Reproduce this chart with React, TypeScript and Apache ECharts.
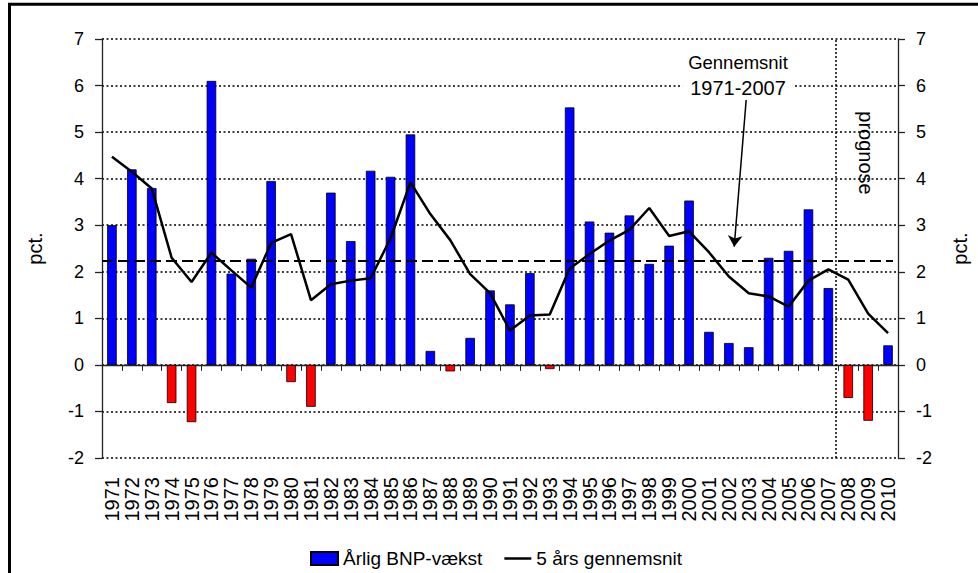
import React, { useEffect, useRef } from "react";
import * as echarts from "echarts";

const years = [
  "1971", "1972", "1973", "1974", "1975", "1976", "1977", "1978", "1979", "1980",
  "1981", "1982", "1983", "1984", "1985", "1986", "1987", "1988", "1989", "1990",
  "1991", "1992", "1993", "1994", "1995", "1996", "1997", "1998", "1999", "2000",
  "2001", "2002", "2003", "2004", "2005", "2006", "2007", "2008", "2009", "2010",
];

const growth = [
  3.0, 4.2, 3.8, -0.82, -1.23, 6.1, 1.96, 2.28, 3.95, -0.37,
  -0.9, 3.7, 2.66, 4.17, 4.04, 4.95, 0.3, -0.14, 0.58, 1.6,
  1.3, 1.97, -0.09, 5.53, 3.08, 2.84, 3.21, 2.17, 2.56, 3.53,
  0.71, 0.47, 0.38, 2.3, 2.45, 3.34, 1.65, -0.71, -1.2, 0.42,
];

const avg5 = [
  4.47, 4.15, 3.79, 2.3, 1.78, 2.41, 2.03, 1.66, 2.62, 2.81,
  1.39, 1.73, 1.81, 1.86, 2.72, 3.92, 3.24, 2.68, 1.95, 1.54,
  0.74, 1.06, 1.08, 2.07, 2.38, 2.67, 2.9, 3.37, 2.77, 2.87,
  2.42, 1.9, 1.54, 1.47, 1.25, 1.81, 2.05, 1.83, 1.1, 0.68,
];

const yTicks = { min: -2, max: 7, interval: 1 };
const longRunAverage = 2.24;
const forecastBoundary = 36.87; // position on the year scale (0..40)
const arrowFrom = [32.37, 5.69];
const arrowTo = [31.77, 2.54];

const seriesNames = ["Årlig BNP-vækst", "5 års gennemsnit"];

const FONT = "Liberation Sans";
const LINE_ICON =
  "path://M0,0 L0.01,0 L0.01,0.01 Z M0,5.2 L30,5.2 L30,7.8 L0,7.8 Z M0,13 L0.01,13 L0.01,12.99 Z";

export default function App() {
  const ref = useRef<HTMLDivElement>(null);

  useEffect(() => {
    if (!ref.current) return;
    const chart = echarts.init(ref.current, undefined, { renderer: "svg" });

    const barData = growth.map((v) =>
      v < 0 ? { value: v, itemStyle: { color: "#FF0000" } } : { value: v }
    );

    const yAxisBase = {
      type: "value",
      min: yTicks.min,
      max: yTicks.max,
      interval: yTicks.interval,
      axisLine: { show: true, lineStyle: { color: "#222", width: 1.3 } },
      axisTick: { show: true, inside: false, length: 7, lineStyle: { color: "#222", width: 1.3 } },
      axisLabel: { fontSize: 18, color: "#000", fontFamily: FONT, margin: 18 },
      name: "pct.",
      nameLocation: "middle",
      nameRotate: 90,
      nameTextStyle: { fontSize: 20, color: "#000", fontFamily: FONT },
    };

    chart.setOption({
      animation: false,
      backgroundColor: "#fff",
      textStyle: { fontFamily: FONT },
      grid: { left: 102, right: 79, top: 39, bottom: 115, containLabel: false },
      legend: {
        left: 305,
        top: 544,
        itemWidth: 27,
        itemHeight: 13,
        itemGap: 22,
        textStyle: { fontSize: 19, color: "#000", fontFamily: FONT },
        data: [
          { name: seriesNames[0], icon: "rect" },
          { name: seriesNames[1], icon: LINE_ICON, itemStyle: { color: "#000", borderWidth: 0 } },
        ],
      },
      xAxis: [
        {
          type: "category",
          data: years,
          position: "bottom",
          axisLine: { show: false, onZero: false },
          axisTick: { show: false },
          splitLine: { show: false },
          axisLabel: {
            rotate: 90,
            fontSize: 20,
            color: "#000",
            fontFamily: FONT,
            margin: 19,
            interval: 0,
          },
        },
        {
          type: "category",
          data: years,
          position: "bottom",
          axisLine: { show: true, onZero: true, onZeroAxisIndex: 0, lineStyle: { color: "#222", width: 1.3 } },
          axisTick: { show: true, inside: false, length: 6, interval: 0, lineStyle: { color: "#222", width: 1 } },
          axisLabel: { show: false },
          splitLine: { show: false },
        },
        {
          type: "value",
          min: 0,
          max: years.length,
          show: false,
        },
      ],
      yAxis: [
        {
          ...yAxisBase,
          position: "left",
          nameGap: 57,
          splitLine: { show: true, lineStyle: { color: "#000", width: 1.6, type: [2, 2.5] } },
        },
        {
          ...yAxisBase,
          position: "right",
          nameGap: 52,
          splitLine: { show: false },
        },
      ],
      series: [
        {
          name: seriesNames[0],
          type: "bar",
          xAxisIndex: 0,
          yAxisIndex: 0,
          barWidth: "48%",
          itemStyle: { color: "#0000FF", borderColor: "#000", borderWidth: 0.8 },
          data: barData,
          z: 2,
        },
        {
          name: seriesNames[1],
          type: "line",
          xAxisIndex: 0,
          yAxisIndex: 0,
          data: avg5,
          symbol: "none",
          lineStyle: { color: "#000", width: 2.5 },
          itemStyle: { color: "#000" },
          z: 4,
        },
        {
          name: "annotations",
          type: "scatter",
          xAxisIndex: 2,
          yAxisIndex: 0,
          data: [[0, 0]],
          symbolSize: 0,
          silent: true,
          z: 3,
          markLine: {
            silent: true,
            animation: false,
            label: { show: false },
            emphasis: { disabled: true },
            data: [
              [
                { coord: [0, longRunAverage], symbol: "none" },
                { coord: [39.75, longRunAverage], symbol: "none" },
              ],
              [
                { coord: [forecastBoundary, yTicks.min], symbol: "none" },
                { coord: [forecastBoundary, yTicks.max], symbol: "none" },
              ],
              [
                { coord: arrowFrom, symbol: "none" },
                { coord: arrowTo, symbol: "arrow", symbolSize: 11 },
              ],
            ].map((pair, i) => {
              const styles = [
                { color: "#000", width: 2, type: [11, 5] },
                { color: "#000", width: 1.5, type: [2, 2] },
                { color: "#000", width: 1.5, type: "solid" },
              ];
              return [
                { ...pair[0], lineStyle: styles[i] },
                { ...pair[1], lineStyle: styles[i] },
              ];
            }),
          },
        },
      ],
      graphic: [
        {
          type: "rect",
          z: 100,
          silent: true,
          shape: { x: 9.5, y: 4.2, width: 1100, height: 700 },
          style: { fill: "none", stroke: "#000", lineWidth: 3 },
        },
        {
          type: "text",
          z: 100,
          x: 738,
          y: 62,
          style: {
            text: "Gennemsnit",
            font: `18.5px "${FONT}"`,
            fill: "#000",
            align: "center",
            verticalAlign: "middle",
          },
        },
        {
          type: "text",
          z: 100,
          x: 738,
          y: 88,
          style: {
            text: "1971-2007",
            font: `20px "${FONT}"`,
            fill: "#000",
            align: "center",
            verticalAlign: "middle",
            backgroundColor: "#fff",
            padding: [1, 8],
          },
        },
        {
          type: "text",
          z: 100,
          x: 866,
          y: 153,
          rotation: -Math.PI / 2,
          style: {
            text: "prognose",
            font: `20px "${FONT}"`,
            fill: "#000",
            align: "center",
            verticalAlign: "middle",
          },
        },
      ],
    });

    return () => chart.dispose();
  }, []);

  return (
    <div
      ref={ref}
      style={{ position: "absolute", left: 0, top: 0, width: 978, height: 573, background: "#fff" }}
    />
  );
}
